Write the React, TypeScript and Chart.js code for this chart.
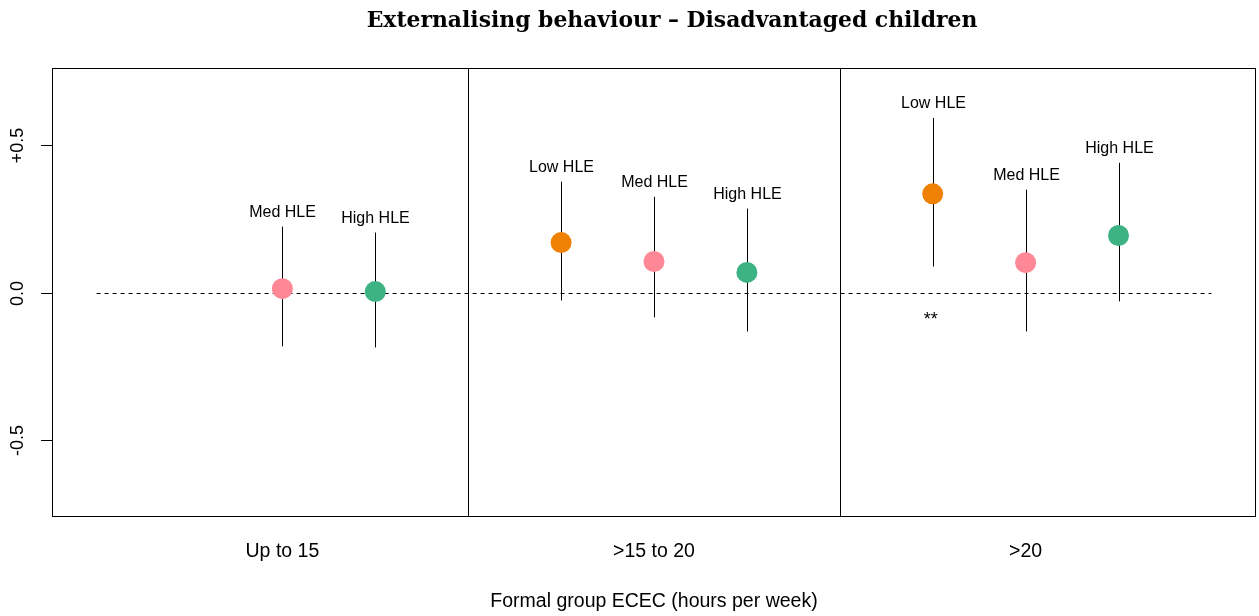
import React, { useEffect, useRef } from "react";
import { Chart, registerables } from "chart.js";

Chart.register(...registerables);

// ---- Data ----
const title = "Externalising behaviour \u2013 Disadvantaged children";
const xAxisTitle = "Formal group ECEC (hours per week)";
const groupLabels = ["Up to 15", ">15 to 20", ">20"];
const groupCenters = [2, 6, 10];
const dividers = [4, 8];
const yTicks = [-0.5, 0, 0.5];
const yTickLabels = ["-0.5", "0.0", "+0.5"];

const lowX = [5, 9];
const lowEst = [0.169, 0.334];
const lowLo = [-0.027, 0.088];
const lowHi = [0.375, 0.591];

const medX = [2, 6, 10];
const medEst = [0.013, 0.105, 0.101];
const medLo = [-0.182, -0.084, -0.132];
const medHi = [0.223, 0.324, 0.348];

const highX = [3, 7, 11];
const highEst = [0.003, 0.068, 0.193];
const highLo = [-0.186, -0.132, -0.03];
const highHi = [0.203, 0.284, 0.439];

const sigX = [9];
const sigY = [-0.085];
const sigText = ["**"];

const seriesDefs = [
  { name: "Low HLE", xs: lowX, est: lowEst, lo: lowLo, hi: lowHi, color: "#EF8104" },
  { name: "Med HLE", xs: medX, est: medEst, lo: medLo, hi: medHi, color: "#FF8896" },
  { name: "High HLE", xs: highX, est: highEst, lo: highLo, hi: highHi, color: "#3DB384" },
];

const SANS = "'Liberation Sans', Arial, Helvetica, sans-serif";

const overlayPlugin = {
  id: "overlay",
  beforeDatasetsDraw(chart: any) {
    const ctx = chart.ctx;
    const xs = chart.scales.x;
    const ys = chart.scales.y;
    const area = chart.chartArea;
    ctx.save();
    // dashed zero line
    ctx.strokeStyle = "#000";
    ctx.lineWidth = 1;
    ctx.setLineDash([4, 4]);
    ctx.beginPath();
    ctx.moveTo(xs.getPixelForValue(0), Math.round(ys.getPixelForValue(0)) + 0.5);
    ctx.lineTo(xs.getPixelForValue(12), Math.round(ys.getPixelForValue(0)) + 0.5);
    ctx.stroke();
    ctx.setLineDash([]);
    // dividers
    dividers.forEach((d) => {
      const px = Math.round(xs.getPixelForValue(d)) + 0.5;
      ctx.beginPath();
      ctx.moveTo(px, area.top);
      ctx.lineTo(px, area.bottom);
      ctx.stroke();
    });
    // error bars and labels
    ctx.fillStyle = "#000";
    ctx.font = `16px ${SANS}`;
    ctx.textAlign = "center";
    ctx.textBaseline = "alphabetic";
    seriesDefs.forEach((s) => {
      s.xs.forEach((xv, i) => {
        const px = Math.round(xs.getPixelForValue(xv)) + 0.5;
        const top = ys.getPixelForValue(s.hi[i]);
        const bot = ys.getPixelForValue(s.lo[i]);
        ctx.beginPath();
        ctx.moveTo(px, top);
        ctx.lineTo(px, bot);
        ctx.stroke();
        ctx.fillText(s.name, px, top - 10);
      });
    });
    // significance markers
    ctx.font = `18px ${SANS}`;
    ctx.textBaseline = "middle";
    sigX.forEach((xv, i) => {
      ctx.fillText(sigText[i], xs.getPixelForValue(xv) - 2, ys.getPixelForValue(sigY[i]) + 2);
    });
    ctx.restore();
  },
  afterDraw(chart: any) {
    const ctx = chart.ctx;
    const xs = chart.scales.x;
    const ys = chart.scales.y;
    const area = chart.chartArea;
    ctx.save();
    ctx.strokeStyle = "#000";
    ctx.lineWidth = 1;
    // box
    ctx.strokeRect(area.left + 0.5, area.top + 0.5, area.right - area.left - 1, area.bottom - area.top - 1);
    // y ticks
    ctx.fillStyle = "#000";
    ctx.font = `18px ${SANS}`;
    ctx.textAlign = "center";
    ctx.textBaseline = "middle";
    yTicks.forEach((t, i) => {
      const py = Math.round(ys.getPixelForValue(t)) + 0.5;
      ctx.beginPath();
      ctx.moveTo(area.left - 11, py);
      ctx.lineTo(area.left, py);
      ctx.stroke();
      ctx.save();
      ctx.translate(18, py);
      ctx.rotate(-Math.PI / 2);
      ctx.fillText(yTickLabels[i], 0, 0);
      ctx.restore();
    });
    // x group labels
    ctx.font = `19.5px ${SANS}`;
    groupLabels.forEach((g, i) => {
      ctx.fillText(g, xs.getPixelForValue(groupCenters[i]), 552);
    });
    ctx.fillText(xAxisTitle, xs.getPixelForValue(6), 602);
    // title
    const fam = "'DejaVu Serif', serif";
    ctx.font = `bold 20px ${fam}`;
    const w = ctx.measureText(title).width;
    const size = (20 * 611) / w;
    ctx.font = `bold ${size.toFixed(2)}px ${fam}`;
    ctx.fillText(title, 672, 21);
    ctx.restore();
  },
};

export default function App() {
  const ref = useRef<HTMLCanvasElement | null>(null);
  useEffect(() => {
    document.body.style.margin = "0";
    const canvas = ref.current;
    if (!canvas) return;
    const chart = new Chart(canvas, {
      type: "scatter",
      data: {
        datasets: seriesDefs.map((s) => ({
          label: s.name,
          data: s.xs.map((xv, i) => ({ x: xv, y: s.est[i] })),
          backgroundColor: s.color,
          borderColor: s.color,
          borderWidth: 0,
          pointRadius: 10.5,
          pointHoverRadius: 10.5,
        })),
      },
      options: {
        animation: false,
        responsive: false,
        maintainAspectRatio: false,
        events: [],
        layout: { autoPadding: false, padding: { left: 52, top: 68, right: 3, bottom: 99 } },
        plugins: { legend: { display: false }, tooltip: { enabled: false }, title: { display: false } },
        scales: {
          x: { type: "linear", min: -0.48, max: 12.48, display: false },
          y: { type: "linear", min: -0.76, max: 0.76, display: false },
        },
      },
      plugins: [overlayPlugin],
    });
    return () => chart.destroy();
  }, []);
  return (
    <div style={{ width: 1259, height: 616, background: "#fff" }}>
      <canvas ref={ref} width={1259} height={616} style={{ display: "block" }} />
    </div>
  );
}
